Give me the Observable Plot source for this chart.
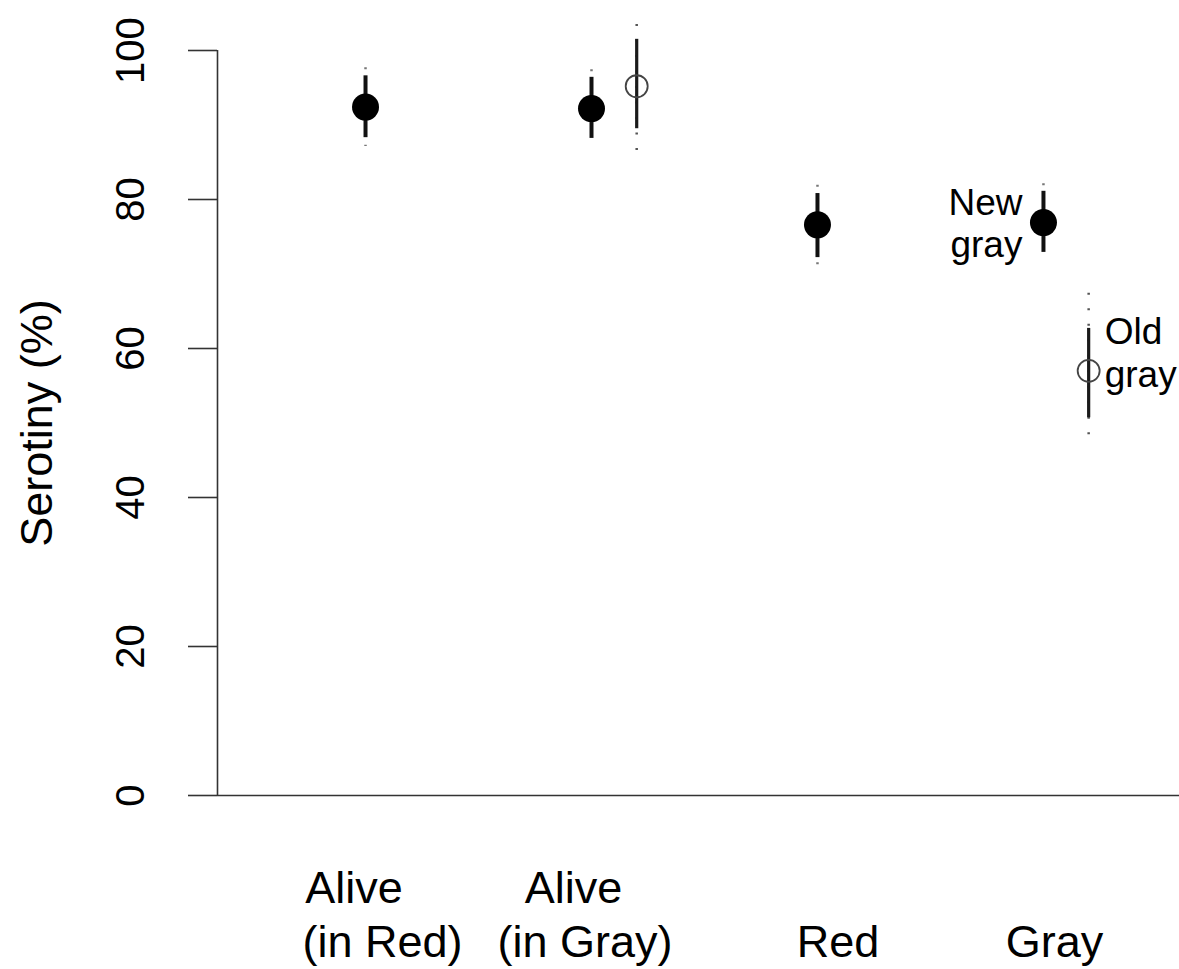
<!DOCTYPE html>
<html>
<head>
<meta charset="utf-8">
<script src="https://cdn.jsdelivr.net/npm/d3@7"></script>
<script src="https://cdn.jsdelivr.net/npm/@observablehq/plot@0.6"></script>
<style>
  html, body { margin: 0; padding: 0; background: #fff; }
  #chart { width: 1179px; height: 969px; }
</style>
</head>
<body>
<div id="chart"></div>
<script>
// ---- data ----
const categories = ["Alive (in Red)", "Alive (in Gray)", "Red", "Gray"];
const labelLine1 = ["Alive", "Alive", "", ""];
const labelLine2 = ["(in Red)", "(in Gray)", "Red", "Gray"];

// new cohort (filled circles), one per category
const newMean = [92.4, 92.2, 76.6, 76.9];
const newLo50 = [88.3, 88.2, 72.2, 72.9];
const newHi50 = [96.6, 96.4, 80.8, 81.1];
const newLo95 = [87.1, 87.0, 71.1, 71.7];
const newHi95 = [97.7, 97.4, 81.9, 82.1];

// old cohort (open circles)
const oldCategory = ["Alive (in Gray)", "Gray"];
const oldMean = [95.2, 57.0];
const oldLo50 = [89.5, 50.7];
const oldHi50 = [101.5, 62.7];
const oldLo95 = [86.4, 48.3];
const oldHi95 = [103.5, 67.4];

const yTicks = [0, 20, 40, 60, 80, 100];
const yTitle = "Serotiny (%)";
const newNote = "New\ngray";
const oldNote = "Old\ngray";

// ---- layout ----
const font = "'Liberation Sans', Arial, Helvetica, sans-serif";
const oldShift = 0.2;           // horizontal shift of old cohort within a category
const nudge1 = [-11.5, -18, 0, 0];
const nudge2 = [17, -6.5, 20.5, 11];

const newRows = categories.map((c, i) => ({
  x: i, mean: newMean[i], lo50: newLo50[i], hi50: newHi50[i], lo95: newLo95[i], hi95: newHi95[i]
}));
const oldRows = oldCategory.map((c, j) => ({
  x: categories.indexOf(c) + oldShift, mean: oldMean[j], lo50: oldLo50[j], hi50: oldHi50[j], lo95: oldLo95[j], hi95: oldHi95[j]
}));
const xMin = -0.655, xMax = 3.602;

const labelMarks = [];
categories.forEach((c, i) => {
  if (labelLine1[i]) labelMarks.push(Plot.text([i], {
    x: d => d, text: d => labelLine1[d], frameAnchor: "bottom", dy: 107, dx: nudge1[i],
    lineAnchor: "bottom", fontSize: 45, fill: "#000"
  }));
  labelMarks.push(Plot.text([i], {
    x: d => d, text: d => labelLine2[d], frameAnchor: "bottom", dy: 161, dx: nudge2[i],
    lineAnchor: "bottom", fontSize: 45, fill: "#000"
  }));
});

const chart = Plot.plot({
  width: 1179,
  height: 969,
  marginLeft: 217,
  marginRight: 0,
  marginTop: 50,
  marginBottom: 174,
  x: { domain: [xMin, xMax], axis: null },
  y: { domain: [0, 100], axis: null },
  style: { fontFamily: font, background: "#fff", overflow: "visible" },
  marks: [
    // L-shaped frame
    Plot.ruleY([0], { stroke: "#333", strokeWidth: 1.6 }),
    Plot.ruleX([xMin], { y1: 0, y2: 100, stroke: "#333", strokeWidth: 1.6 }),
    // y ticks
    Plot.axisY({ ticks: yTicks, tickSize: 29, tickFormat: () => "", label: null, stroke: "#333", strokeWidth: 1.6 }),
    Plot.text(yTicks, {
      y: d => d, text: d => String(d), frameAnchor: "left", dx: -86,
      rotate: -90, textAnchor: "middle", lineAnchor: "middle", fontSize: 40, fill: "#000"
    }),
    Plot.text([yTitle], {
      text: d => d, frameAnchor: "left", dx: -180, rotate: -90,
      textAnchor: "middle", lineAnchor: "middle", fontSize: 45, fill: "#000"
    }),
    // new cohort
    Plot.ruleX(newRows, { x: "x", y1: "hi95", y2: "lo95", stroke: "#777", strokeWidth: 2.5, strokeDasharray: "2,13.5" }),
    Plot.ruleX(newRows, { x: "x", y1: "lo50", y2: "hi50", stroke: "#111", strokeWidth: 4 }),
    Plot.dot(newRows, { x: "x", y: "mean", r: 13.5, fill: "#000", stroke: "none" }),
    // old cohort
    Plot.ruleX(oldRows, { x: "x", y1: "hi95", y2: "lo95", stroke: "#555", strokeWidth: 2.5, strokeDasharray: "2,13.5" }),
    Plot.ruleX(oldRows, { x: "x", y1: "lo50", y2: "hi50", stroke: "#1a1a1a", strokeWidth: 3.2 }),
    Plot.dot(oldRows, { x: "x", y: "mean", r: 11, fill: "none", stroke: "#444", strokeWidth: 1.8 }),
    // annotations
    Plot.text([newRows[3]], {
      x: "x", y: "mean", text: () => newNote, textAnchor: "end", dx: -21,
      lineAnchor: "middle", lineHeight: 1.15, fontSize: 37, fill: "#000"
    }),
    Plot.text([oldRows[1]], {
      x: "x", y: "mean", text: () => oldNote, textAnchor: "start", dx: 16, dy: -19,
      lineAnchor: "middle", lineHeight: 1.15, fontSize: 37, fill: "#000"
    }),
    ...labelMarks
  ]
});
document.getElementById("chart").appendChild(chart);
</script>
</body>
</html>
